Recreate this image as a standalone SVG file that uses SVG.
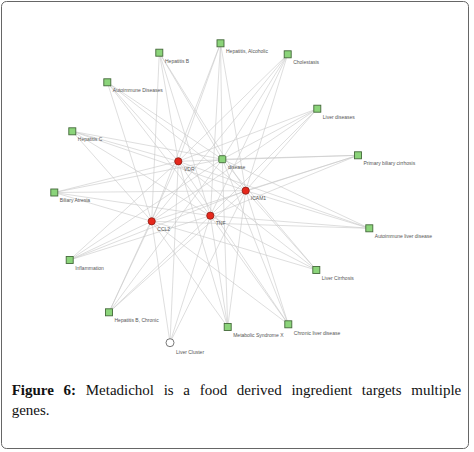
<svg xmlns="http://www.w3.org/2000/svg" width="474" height="452" viewBox="0 0 474 452">
<style>
.e{stroke:#c8c8c8;stroke-width:0.6;fill:none}
.sq{fill:#8bd47a;stroke:#44693a;stroke-width:0.9}
.gn{fill:#e6281c;stroke:#8e1c14;stroke-width:0.8}
.cl{fill:#fff;stroke:#555;stroke-width:0.8}
.lb{font-family:"Liberation Sans",Arial,sans-serif;font-size:5px;fill:#555}
.cap{font-family:"Liberation Serif","Times New Roman",serif;font-size:15px;fill:#111}
</style>
<rect x="1.5" y="1.5" width="467" height="447" rx="5" fill="#fff" stroke="#666" stroke-width="1"/>
<g id="connectors">
<!-- Hepatitis B -->
<line class="e" x1="159.3" y1="52.7" x2="178.3" y2="161.3"/><line class="e" x1="159.3" y1="52.7" x2="222.3" y2="159.2"/><line class="e" x1="159.3" y1="52.7" x2="245.7" y2="190.7"/><line class="e" x1="159.3" y1="52.7" x2="210.3" y2="215.7"/><line class="e" x1="159.3" y1="52.7" x2="151.7" y2="221.3"/>
<!-- Hepatitis, Alcoholic -->
<line class="e" x1="220.5" y1="43.3" x2="178.3" y2="161.3"/><line class="e" x1="220.5" y1="43.3" x2="222.3" y2="159.2"/><line class="e" x1="220.5" y1="43.3" x2="245.7" y2="190.7"/><line class="e" x1="220.5" y1="43.3" x2="210.3" y2="215.7"/><line class="e" x1="220.5" y1="43.3" x2="151.7" y2="221.3"/>
<!-- Autoimmune Diseases -->
<line class="e" x1="107.3" y1="82.3" x2="178.3" y2="161.3"/><line class="e" x1="107.3" y1="82.3" x2="222.3" y2="159.2"/><line class="e" x1="107.3" y1="82.3" x2="245.7" y2="190.7"/><line class="e" x1="107.3" y1="82.3" x2="210.3" y2="215.7"/><line class="e" x1="107.3" y1="82.3" x2="151.7" y2="221.3"/>
<!-- Hepatitis C -->
<line class="e" x1="72.3" y1="131.3" x2="178.3" y2="161.3"/><line class="e" x1="72.3" y1="131.3" x2="222.3" y2="159.2"/><line class="e" x1="72.3" y1="131.3" x2="245.7" y2="190.7"/><line class="e" x1="72.3" y1="131.3" x2="210.3" y2="215.7"/><line class="e" x1="72.3" y1="131.3" x2="151.7" y2="221.3"/>
<!-- Cholestasis -->
<line class="e" x1="287.7" y1="54.3" x2="178.3" y2="161.3"/><line class="e" x1="287.7" y1="54.3" x2="222.3" y2="159.2"/><line class="e" x1="287.7" y1="54.3" x2="245.7" y2="190.7"/><line class="e" x1="287.7" y1="54.3" x2="210.3" y2="215.7"/><line class="e" x1="287.7" y1="54.3" x2="151.7" y2="221.3"/>
<!-- Liver diseases -->
<line class="e" x1="317.3" y1="108.7" x2="178.3" y2="161.3"/><line class="e" x1="317.3" y1="108.7" x2="222.3" y2="159.2"/><line class="e" x1="317.3" y1="108.7" x2="245.7" y2="190.7"/><line class="e" x1="317.3" y1="108.7" x2="210.3" y2="215.7"/><line class="e" x1="317.3" y1="108.7" x2="151.7" y2="221.3"/>
<!-- Primary biliary cirrhosis -->
<line class="e" x1="358" y1="155.3" x2="178.3" y2="161.3"/><line class="e" x1="358" y1="155.3" x2="222.3" y2="159.2"/><line class="e" x1="358" y1="155.3" x2="245.7" y2="190.7"/><line class="e" x1="358" y1="155.3" x2="210.3" y2="215.7"/><line class="e" x1="358" y1="155.3" x2="151.7" y2="221.3"/>
<!-- Autoimmune liver disease -->
<line class="e" x1="369.3" y1="228.3" x2="178.3" y2="161.3"/><line class="e" x1="369.3" y1="228.3" x2="222.3" y2="159.2"/><line class="e" x1="369.3" y1="228.3" x2="245.7" y2="190.7"/><line class="e" x1="369.3" y1="228.3" x2="210.3" y2="215.7"/><line class="e" x1="369.3" y1="228.3" x2="151.7" y2="221.3"/>
<!-- Liver Cirrhosis -->
<line class="e" x1="316.3" y1="270" x2="178.3" y2="161.3"/><line class="e" x1="316.3" y1="270" x2="222.3" y2="159.2"/><line class="e" x1="316.3" y1="270" x2="245.7" y2="190.7"/><line class="e" x1="316.3" y1="270" x2="210.3" y2="215.7"/><line class="e" x1="316.3" y1="270" x2="151.7" y2="221.3"/>
<!-- Chronic liver disease -->
<line class="e" x1="288.3" y1="324.3" x2="178.3" y2="161.3"/><line class="e" x1="288.3" y1="324.3" x2="222.3" y2="159.2"/><line class="e" x1="288.3" y1="324.3" x2="245.7" y2="190.7"/><line class="e" x1="288.3" y1="324.3" x2="210.3" y2="215.7"/><line class="e" x1="288.3" y1="324.3" x2="151.7" y2="221.3"/>
<!-- Metabolic Syndrome X -->
<line class="e" x1="227.7" y1="327" x2="178.3" y2="161.3"/><line class="e" x1="227.7" y1="327" x2="222.3" y2="159.2"/><line class="e" x1="227.7" y1="327" x2="245.7" y2="190.7"/><line class="e" x1="227.7" y1="327" x2="210.3" y2="215.7"/><line class="e" x1="227.7" y1="327" x2="151.7" y2="221.3"/>
<!-- Liver Cluster -->
<line class="e" x1="170" y1="342.7" x2="178.3" y2="161.3"/><line class="e" x1="170" y1="342.7" x2="245.7" y2="190.7"/><line class="e" x1="170" y1="342.7" x2="210.3" y2="215.7"/><line class="e" x1="170" y1="342.7" x2="151.7" y2="221.3"/>
<!-- Hepatitis B, Chronic -->
<line class="e" x1="109" y1="312.3" x2="178.3" y2="161.3"/><line class="e" x1="109" y1="312.3" x2="222.3" y2="159.2"/><line class="e" x1="109" y1="312.3" x2="245.7" y2="190.7"/><line class="e" x1="109" y1="312.3" x2="210.3" y2="215.7"/><line class="e" x1="109" y1="312.3" x2="151.7" y2="221.3"/>
<!-- Inflammation -->
<line class="e" x1="69.7" y1="260" x2="178.3" y2="161.3"/><line class="e" x1="69.7" y1="260" x2="222.3" y2="159.2"/><line class="e" x1="69.7" y1="260" x2="245.7" y2="190.7"/><line class="e" x1="69.7" y1="260" x2="210.3" y2="215.7"/><line class="e" x1="69.7" y1="260" x2="151.7" y2="221.3"/>
<!-- Biliary Atresia -->
<line class="e" x1="54.3" y1="192.5" x2="178.3" y2="161.3"/><line class="e" x1="54.3" y1="192.5" x2="222.3" y2="159.2"/><line class="e" x1="54.3" y1="192.5" x2="245.7" y2="190.7"/><line class="e" x1="54.3" y1="192.5" x2="210.3" y2="215.7"/><line class="e" x1="54.3" y1="192.5" x2="151.7" y2="221.3"/>
</g>
<g id="n-hepb"><rect class="sq" x="155.8" y="49.2" width="7" height="7"/><text class="lb" x="165" y="62.5">Hepatitis B</text></g>
<g id="n-hepalc"><rect class="sq" x="217" y="39.8" width="7" height="7"/><text class="lb" x="226" y="53">Hepatitis, Alcoholic</text></g>
<g id="n-autodis"><rect class="sq" x="103.8" y="78.8" width="7" height="7"/><text class="lb" x="112.8" y="92">Autoimmune Diseases</text></g>
<g id="n-hepc"><rect class="sq" x="68.8" y="127.8" width="7" height="7"/><text class="lb" x="77.8" y="141">Hepatitis C</text></g>
<g id="n-chol"><rect class="sq" x="284.2" y="50.8" width="7" height="7"/><text class="lb" x="293.2" y="64">Cholestasis</text></g>
<g id="n-liverdis"><rect class="sq" x="313.8" y="105.2" width="7" height="7"/><text class="lb" x="322.8" y="118.5">Liver diseases</text></g>
<g id="n-pbc"><rect class="sq" x="354.5" y="151.8" width="7" height="7"/><text class="lb" x="363.5" y="165">Primary biliary cirrhosis</text></g>
<g id="n-autoliver"><rect class="sq" x="365.8" y="224.8" width="7" height="7"/><text class="lb" x="374.8" y="238">Autoimmune liver disease</text></g>
<g id="n-cirr"><rect class="sq" x="312.8" y="266.5" width="7" height="7"/><text class="lb" x="321.8" y="279.5">Liver Cirrhosis</text></g>
<g id="n-chronic"><rect class="sq" x="284.8" y="320.8" width="7" height="7"/><text class="lb" x="293.8" y="334.5">Chronic liver disease</text></g>
<g id="n-metsyn"><rect class="sq" x="224.2" y="323.5" width="7" height="7"/><text class="lb" x="233.2" y="336.5">Metabolic Syndrome X</text></g>
<g id="n-cluster"><circle class="cl" cx="170" cy="342.7" r="4"/><text class="lb" x="176" y="353.5">Liver Cluster</text></g>
<g id="n-hepbchr"><rect class="sq" x="105.5" y="308.8" width="7" height="7"/><text class="lb" x="114.5" y="322">Hepatitis B, Chronic</text></g>
<g id="n-inflam"><rect class="sq" x="66.2" y="256.5" width="7" height="7"/><text class="lb" x="75.2" y="269.8">Inflammation</text></g>
<g id="n-biliary"><rect class="sq" x="50.8" y="189" width="7" height="7"/><text class="lb" x="59.8" y="202.3">Biliary Atresia</text></g>
<g id="n-disease"><rect class="sq" x="218.8" y="155.7" width="7" height="7" rx="1"/><text class="lb" x="228" y="169">disease</text></g>
<g id="n-vdr"><circle class="gn" cx="178.3" cy="161.3" r="3.6"/><text class="lb" x="184" y="170.8">VDR</text></g>
<g id="n-icam1"><circle class="gn" cx="245.7" cy="190.7" r="3.6"/><text class="lb" x="250.8" y="200.3">ICAM1</text></g>
<g id="n-tnf"><circle class="gn" cx="210.3" cy="215.7" r="3.6"/><text class="lb" x="215.8" y="224.5">TNF</text></g>
<g id="n-ccl2"><circle class="gn" cx="151.7" cy="221.3" r="3.6"/><text class="lb" x="157.3" y="231">CCL2</text></g>
<g id="caption">
<text class="cap" x="11.7" y="395" word-spacing="5.9"><tspan font-weight="bold">Figure 6:</tspan> Metadichol is a food derived ingredient targets multiple</text>
<text class="cap" x="11.7" y="415">genes.</text>
</g>
</svg>
